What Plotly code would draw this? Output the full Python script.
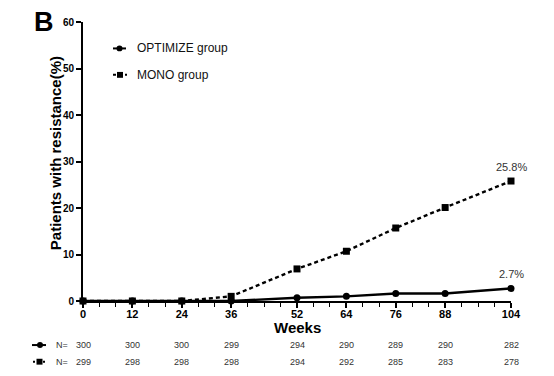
import plotly.graph_objects as go

weeks = [0, 12, 24, 36, 52, 64, 76, 88, 104]
optimize = [0, 0, 0, 0, 0.7, 1.0, 1.6, 1.6, 2.7]
mono = [0, 0, 0, 1.0, 6.9, 10.7, 15.7, 20.1, 25.8]
n_optimize = [300, 300, 300, 299, 294, 290, 289, 290, 282]
n_mono = [299, 298, 298, 298, 294, 292, 285, 283, 278]
y_ticks = [0, 10, 20, 30, 40, 50, 60]

FONT = "Liberation Sans, Arial, sans-serif"
OFF = 8  # page body margin
W, H = 554 - OFF, 376 - OFF
L, R, T, B = 83 - OFF, 43, 16 - OFF, 75
PW, PH = W - L - R, H - T - B

def px(x):
    return (x - OFF - L) / PW

def py(y):
    return (H - B - (y - OFF)) / PH

fig = go.Figure()
fig.add_trace(go.Scatter(x=weeks, y=optimize, mode="lines+markers", name="OPTIMIZE group",
                         line=dict(color="black", width=2.4),
                         marker=dict(symbol="circle", size=7, color="black"),
                         cliponaxis=False, showlegend=False))
fig.add_trace(go.Scatter(x=weeks, y=mono, mode="lines+markers", name="MONO group",
                         line=dict(color="black", width=2.4, dash="4px,3px"),
                         marker=dict(symbol="square", size=7, color="black"),
                         cliponaxis=False, showlegend=False))

shapes = []
annotations = []

def glyph(x0, x1, yc, dash, symbol, mx):
    shapes.append(dict(type="line", xref="paper", yref="paper",
                       x0=px(x0), x1=px(x1), y0=py(yc), y1=py(yc),
                       line=dict(color="black", width=2, dash=dash)))
    s = 3
    shapes.append(dict(type="circle" if symbol == "circle" else "rect",
                       xref="paper", yref="paper",
                       x0=px(mx - s), x1=px(mx + s), y0=py(yc - s), y1=py(yc + s),
                       fillcolor="black", line=dict(color="black", width=0)))

# legend
glyph(113, 126, 43, "solid", "circle", 119.5)
glyph(113, 127, 70, "3px,3px", "rect", 120)
annotations.append(dict(text="OPTIMIZE group", xref="paper", yref="paper", x=px(135), y=py(43),
                        xanchor="left", yanchor="middle", showarrow=False,
                        font=dict(family=FONT, size=12, color="#111")))
annotations.append(dict(text="MONO group", xref="paper", yref="paper", x=px(135), y=py(70),
                        xanchor="left", yanchor="middle", showarrow=False,
                        font=dict(family=FONT, size=12, color="#111")))

# N table
glyph(32, 46, 346, "solid", "circle", 40)
glyph(33, 46, 363, "2px,3px", "rect", 39.5)
for yc in (346, 363):
    annotations.append(dict(text="N=", xref="paper", yref="paper", x=px(54), y=py(yc),
                            xanchor="left", yanchor="middle", showarrow=False,
                            font=dict(family=FONT, size=9, color="#333")))
for w, a, b in zip(weeks, n_optimize, n_mono):
    annotations.append(dict(text=str(a), xref="x", yref="paper", x=w, y=py(346),
                            xanchor="center", yanchor="middle", showarrow=False,
                            font=dict(family=FONT, size=9, color="#333")))
    annotations.append(dict(text=str(b), xref="x", yref="paper", x=w, y=py(363),
                            xanchor="center", yanchor="middle", showarrow=False,
                            font=dict(family=FONT, size=9, color="#333")))

# end labels
annotations.append(dict(text=f"{mono[-1]}%", xref="x", yref="y", x=weeks[-1], y=mono[-1],
                        xanchor="center", yanchor="bottom", yshift=6, showarrow=False,
                        font=dict(family=FONT, size=11, color="#333")))
annotations.append(dict(text=f"{optimize[-1]}%", xref="x", yref="y", x=weeks[-1], y=optimize[-1],
                        xanchor="center", yanchor="bottom", yshift=6, showarrow=False,
                        font=dict(family=FONT, size=11, color="#333")))

# panel letter
annotations.append(dict(text="<b>B</b>", xref="paper", yref="paper", x=px(44), y=py(16),
                        xanchor="center", yanchor="middle", showarrow=False,
                        font=dict(family=FONT, size=27, color="black")))

# axis titles as annotations for precise placement
annotations.append(dict(text="<b>Weeks</b>", xref="paper", yref="paper", x=px(297), y=py(328),
                        xanchor="center", yanchor="middle", showarrow=False,
                        font=dict(family=FONT, size=15, color="black")))
annotations.append(dict(text="<b>Patients with resistance(%)</b>", xref="paper", yref="paper",
                        x=px(55), y=py(150), textangle=-90,
                        xanchor="center", yanchor="middle", showarrow=False,
                        font=dict(family=FONT, size=15, color="black")))

fig.update_layout(
    width=W, height=H,
    margin=dict(l=L, r=R, t=T, b=B, pad=0),
    paper_bgcolor="white", plot_bgcolor="white",
    font=dict(family=FONT, color="black"),
    shapes=shapes, annotations=annotations,
    showlegend=False,
)
fig.update_xaxes(range=[0, 104], tickmode="array", tickvals=weeks,
                 ticktext=[f"<b>{w}</b>" for w in weeks],
                 showgrid=False, zeroline=False, showline=True, linecolor="black", linewidth=2,
                 ticks="outside", ticklen=5, tickwidth=1.5, tickcolor="black",
                 ticklabelstandoff=-3,
                 tickfont=dict(family=FONT, size=11, color="black"),
                 minor=dict(dtick=4, tick0=0, ticks="outside", ticklen=4, tickwidth=1.2, tickcolor="black"))
fig.update_yaxes(range=[0, 60], tickmode="array", tickvals=y_ticks,
                 ticktext=[f"<b>{v}</b>" for v in y_ticks],
                 showgrid=False, zeroline=False, showline=True, linecolor="black", linewidth=2,
                 ticks="outside", ticklen=5, tickwidth=1.5, tickcolor="black",
                 tickfont=dict(family=FONT, size=10, color="black"))

fig.write_html("out.html")
